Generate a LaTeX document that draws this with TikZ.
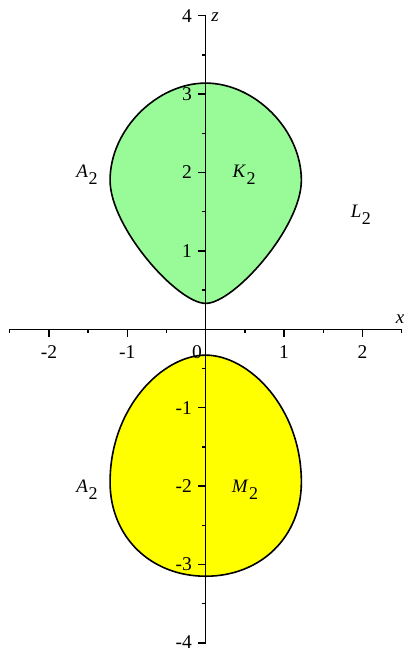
\documentclass[tikz,border=0pt]{standalone}
\usepackage{fontspec}
\setmainfont{Liberation Serif}
\newcommand{\sublab}[2]{\textit{#1}\kern0.5pt\raisebox{-7pt}{\fontsize{18}{19}\selectfont #2}}
\tikzset{
  shapeline/.style={draw=black, line width=1.6pt, line join=round},
  axisline/.style={line width=1.5pt},
  ticklab/.style={font=\fontsize{19.5}{21}\selectfont, inner sep=0pt},
  lab/.style={font=\fontsize{19}{21}\selectfont, inner sep=0pt},
}
\definecolor{palegreenK}{HTML}{98FB98}
\definecolor{yellowM}{HTML}{FFFF00}
\begin{document}
\begin{tikzpicture}[x=78.4pt,y=78.4pt]
\useasboundingbox (-2.624,-4.091) rectangle (2.555,4.2);
% region K2 (green)
\draw[shapeline, fill=palegreenK]
  (0,3.14) .. controls (0.62,3.14) and (1.22,2.55) .. (1.22,1.9)
           .. controls (1.22,1.3) and (0.36,0.33) .. (0,0.33)
           .. controls (-0.36,0.33) and (-1.22,1.3) .. (-1.22,1.9)
           .. controls (-1.22,2.55) and (-0.62,3.14) .. (0,3.14) -- cycle;
% region M2 (yellow)
\draw[shapeline, fill=yellowM]
  (0,-0.33) .. controls (0.55,-0.33) and (1.22,-1.0) .. (1.22,-1.95)
            .. controls (1.22,-2.65) and (0.7,-3.15) .. (0,-3.15)
            .. controls (-0.7,-3.15) and (-1.22,-2.65) .. (-1.22,-1.95)
            .. controls (-1.22,-1.0) and (-0.55,-0.33) .. (0,-0.33) -- cycle;
% axes
\coordinate (xl) at (-2.5,0);
\coordinate (xr) at (2.5,0);
\coordinate (zb) at (0,-4);
\coordinate (zt) at (0,4);
\draw[axisline] (xl) -- (xr);
\draw[axisline] (zb) -- (zt);
\foreach \i in {-2,-1,1,2} \draw[axisline] (\i,0) -- ++(0,-0.1);
\foreach \i in {-2.5,-1.5,-0.5,0.5,1.5,2.5} \draw[axisline] (\i,0) -- ++(0,-0.05);
\foreach \i in {-4,-3,-2,-1,1,2,3,4} \draw[axisline] (0,\i) -- ++(-0.1,0);
\foreach \i in {-3.5,-2.5,-1.5,-0.5,0.5,1.5,2.5,3.5} \draw[axisline] (0,\i) -- ++(-0.05,0);
% tick labels
\foreach \i in {-2,-1,1,2} \node[ticklab, anchor=north] (xt\i) at (\i,-0.2) {\i};
\node[ticklab, anchor=north] (xt0) at (-0.11,-0.2) {0};
\foreach \i in {-3,-2,-1,1,2,3,4} \node[ticklab, anchor=east] (zt\i) at (-0.175,\i) {\i};
\node[ticklab, anchor=east] (ztm4) at (-0.175,-3.99) {-4};
% axis labels
\node[lab] (xlab) at (2.478,0.131) {\textit{x}};
\node[lab] (zlab) at (0.119,3.977) {\textit{z}};
% region labels
\node[lab] (A1) at (-1.514,1.968) {\sublab{A}{2}};
\node[lab] (A2) at (-1.514,-2.05) {\sublab{A}{2}};
\node[lab] (K) at (0.489,1.968) {\sublab{K}{2}};
\node[lab] (M) at (0.501,-2.05) {\sublab{M}{2}};
\node[lab] (L) at (1.98,1.458) {\sublab{L}{2}};
\end{tikzpicture}
\end{document}
